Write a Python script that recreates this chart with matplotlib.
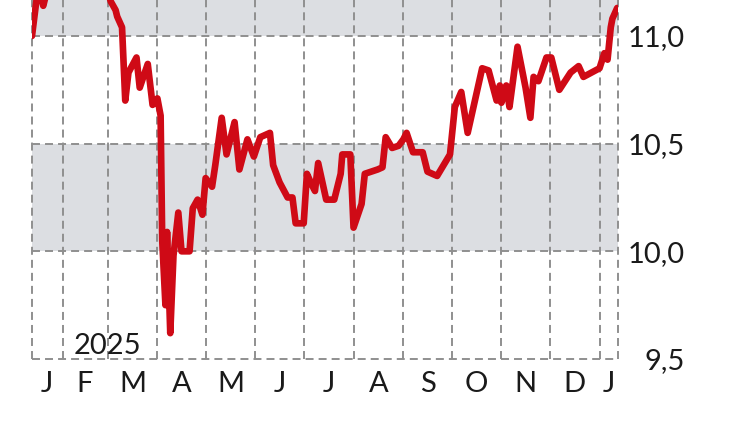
import datetime as dt
import matplotlib
matplotlib.use('Agg')
import matplotlib.pyplot as plt

plt.rcParams['font.family'] = ['Lato', 'DejaVu Sans']

dates = [
  '2025-01-13', '2025-01-16', '2025-01-18', '2025-01-20', '2025-01-22', '2025-01-25',
  '2025-02-01', '2025-02-09', '2025-02-18', '2025-02-24', '2025-03-01', '2025-03-03',
  '2025-03-06', '2025-03-07', '2025-03-10', '2025-03-12', '2025-03-14', '2025-03-19',
  '2025-03-21', '2025-03-26', '2025-03-29', '2025-04-01', '2025-04-03', '2025-04-04',
  '2025-04-06', '2025-04-07', '2025-04-09', '2025-04-11', '2025-04-14', '2025-04-16',
  '2025-04-21', '2025-04-23', '2025-04-26', '2025-04-29', '2025-05-01', '2025-05-05',
  '2025-05-07', '2025-05-11', '2025-05-14', '2025-05-19', '2025-05-22', '2025-05-27',
  '2025-05-31', '2025-06-04', '2025-06-10', '2025-06-12', '2025-06-16', '2025-06-21',
  '2025-06-24', '2025-06-26', '2025-07-01', '2025-07-03', '2025-07-06', '2025-07-08',
  '2025-07-10', '2025-07-15', '2025-07-20', '2025-07-24', '2025-07-25', '2025-07-30',
  '2025-08-01', '2025-08-06', '2025-08-08', '2025-08-16', '2025-08-19', '2025-08-21',
  '2025-08-25', '2025-08-29', '2025-09-01', '2025-09-03', '2025-09-07', '2025-09-13',
  '2025-09-16', '2025-09-22', '2025-09-30', '2025-10-03', '2025-10-07', '2025-10-11',
  '2025-10-20', '2025-10-24', '2025-10-29', '2025-10-31', '2025-11-01', '2025-11-04',
  '2025-11-06', '2025-11-11', '2025-11-16', '2025-11-19', '2025-11-21', '2025-11-24',
  '2025-11-29', '2025-12-02', '2025-12-07', '2025-12-14', '2025-12-19', '2025-12-22',
  '2026-01-01', '2026-01-04', '2026-01-06', '2026-01-08', '2026-01-09', '2026-01-12',
]
values = [
  11.00, 11.18, 11.21, 11.14, 11.20, 11.28,
  11.31, 11.26, 11.33, 11.28, 11.21, 11.16,
  11.12, 11.09, 11.04, 10.70, 10.83, 10.90,
  10.76, 10.87, 10.68, 10.71, 10.63, 10.05,
  9.75, 10.09, 9.62, 9.98, 10.18, 10.00,
  10.00, 10.20, 10.24, 10.17, 10.34, 10.30,
  10.40, 10.62, 10.45, 10.60, 10.38, 10.52,
  10.44, 10.53, 10.55, 10.40, 10.32, 10.25,
  10.25, 10.13, 10.13, 10.36, 10.31, 10.28,
  10.41, 10.24, 10.24, 10.36, 10.45, 10.45,
  10.11, 10.22, 10.36, 10.38, 10.39, 10.53,
  10.48, 10.49, 10.52, 10.55, 10.46, 10.46,
  10.37, 10.35, 10.45, 10.67, 10.74, 10.55,
  10.85, 10.84, 10.70, 10.77, 10.69, 10.77,
  10.67, 10.95, 10.76, 10.62, 10.81, 10.79,
  10.90, 10.90, 10.75, 10.83, 10.86, 10.81,
  10.85, 10.92, 10.89, 11.04, 11.08, 11.13,
]

month_letters = ['J', 'F', 'M', 'A', 'M', 'J', 'J', 'A', 'S', 'O', 'N', 'D', 'J']
month_starts = ['2025-02-01', '2025-03-01', '2025-04-01', '2025-05-01', '2025-06-01',
                '2025-07-01', '2025-08-01', '2025-09-01', '2025-10-01', '2025-11-01',
                '2025-12-01', '2026-01-01']
y_ticks = [9.5, 10.0, 10.5, 11.0]
y_labels = ['9,5', '10,0', '10,5', '11,0']
bands = [(10.0, 10.5), (11.0, 11.5)]
year_label = '2025'
year_label_at = '2025-03-01'

x_start = dt.datetime(2025, 1, 13)
x_end = dt.datetime(2026, 1, 12, 12)
y_min, y_max = 9.5, 11.167

RED = '#cf0a16'
GRID = '#8f8f8f'
BAND = '#dcdee2'
TEXT = '#1a1a1a'

x = [dt.datetime.fromisoformat(d) for d in dates]
bounds = [x_start] + [dt.datetime.fromisoformat(d) for d in month_starts] + [x_end]

fig = plt.figure(figsize=(7.5, 4.21), dpi=100)
ax = fig.add_axes([32 / 750, (421 - 359) / 421, (618 - 32) / 750, 359 / 421])
ax.set_xlim(x_start, x_end)
ax.set_ylim(y_min, y_max)

for lo, hi in bands:
  ax.axhspan(lo, hi, color=BAND, lw=0, zorder=0)

dash = dict(color=GRID, lw=1.4, dashes=(4.1, 2.6), zorder=1, clip_on=False)
for b in bounds:
  ax.axvline(b, **dash)
for t in y_ticks:
  ax.axhline(t, **dash)

ax.plot(x, values, color=RED, lw=4.8, solid_joinstyle='round',
        solid_capstyle='round', zorder=3)

for s in ax.spines.values():
  s.set_visible(False)
ax.set_xticks([])
ax.yaxis.tick_right()
ax.set_yticks(y_ticks, y_labels)
ax.tick_params(axis='y', length=0, pad=48, labelsize=21, labelcolor=TEXT)
for lbl in ax.get_yticklabels():
  lbl.set_horizontalalignment('right')
  lbl.set_verticalalignment('center_baseline')

xt = ax.get_xaxis_transform()
for i, letter in enumerate(month_letters):
  mid = bounds[i] + (bounds[i + 1] - bounds[i]) / 2
  ax.text(mid, -33 / 359, letter, transform=xt, ha='center', va='baseline',
          fontsize=21, color=TEXT, clip_on=False)

ax.text(dt.datetime.fromisoformat(year_label_at), 5 / 359, year_label, transform=xt,
        ha='center', va='baseline', fontsize=21, color=TEXT)

fig.savefig('out.png', dpi=100, facecolor='white')
